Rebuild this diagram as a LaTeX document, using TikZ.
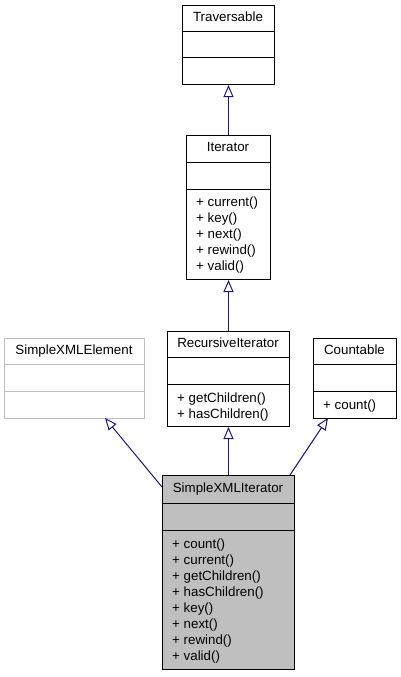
\documentclass[tikz,border=0pt]{standalone}
\usepackage{fontspec}
\setmainfont{Liberation Sans}
\usetikzlibrary{arrows.meta,calc}
\definecolor{edgeblue}{HTML}{191970}
\definecolor{shade}{HTML}{BFBFBF}
\definecolor{lightframe}{HTML}{BFBFBF}
\begin{document}
\begin{tikzpicture}[x=1pt,y=-1pt,
  font=\fontsize{13.33}{16}\selectfont,
  cls/.style={draw=black, line width=1pt, inner sep=0pt, anchor=north west},
  ttl/.style={inner sep=0pt, anchor=center, text height=9.7pt, text depth=2.8pt},
  meth/.style={inner sep=0pt, anchor=west, text height=9.7pt, text depth=2.8pt},
  divider/.style={line width=1pt},
  inh/.style={draw=edgeblue, line width=1pt, -{Triangle[open, length=12pt, width=10pt]}}
]
\useasboundingbox (0,0) rectangle (400,677);

% Traversable
\node[cls, minimum width=92pt, minimum height=79pt] (trav) at (182,5) {};
\draw[divider] (182,32) -- (274,32);
\draw[divider] (182,58) -- (274,58);
\node[ttl] (trav-t) at (228,18.5) {Traversable};

% Iterator
\node[cls, minimum width=84pt, minimum height=144pt] (iter) at (186,135) {};
\draw[divider] (186,162) -- (270,162);
\draw[divider] (186,189) -- (270,189);
\node[ttl] (iter-t) at (228,148.5) {Iterator};
\foreach \t [count=\i from 0] in {current(), key(), next(), rewind(), valid()}
  \node[meth] (iter-m\i) at (196,203.5+16*\i) {+ \t};

% RecursiveIterator
\node[cls, minimum width=122pt, minimum height=95pt] (ri) at (167,331) {};
\draw[divider] (167,357) -- (289,357);
\draw[divider] (167,384) -- (289,384);
\node[ttl] (ri-t) at (228,344) {RecursiveIterator};
\foreach \t [count=\i from 0] in {getChildren(), hasChildren()}
  \node[meth] (ri-m\i) at (177,399.5+16*\i) {+ \t};

% SimpleXMLElement
\node[cls, draw=lightframe, minimum width=140pt, minimum height=80pt] (sxe) at (4,338) {};
\draw[divider, lightframe] (4,364) -- (144,364);
\draw[divider, lightframe] (4,391) -- (144,391);
\node[ttl] (sxe-t) at (74,351) {SimpleXMLElement};

% Countable
\node[cls, minimum width=83pt, minimum height=80pt] (cnt) at (313,338) {};
\draw[divider] (313,364) -- (396,364);
\draw[divider] (313,391) -- (396,391);
\node[ttl] (cnt-t) at (354.5,351) {Countable};
\node[meth] (cnt-m0) at (323,406.5) {+ count()};

% SimpleXMLIterator
\node[cls, fill=shade, minimum width=132pt, minimum height=194pt] (sxi) at (162,475) {};
\draw[divider] (162,503) -- (294,503);
\draw[divider] (162,530) -- (294,530);
\node[ttl] (sxi-t) at (228,489) {SimpleXMLIterator};
\foreach \t [count=\i from 0] in {count(), current(), getChildren(), hasChildren(), key(), next(), rewind(), valid()}
  \node[meth] (sxi-m\i) at (172,545+16*\i) {+ \t};

% connectors
\coordinate (e1s) at (162,487);
\coordinate (e1t) at (105,418);
\coordinate (e3s) at (290,475);
\coordinate (e3t) at (328,418);
\draw[inh] (iter.north) -- (trav.south);
\draw[inh] (ri.north) -- (iter.south);
\draw[inh] (sxi.north) -- (ri.south);
\draw[inh] (e1s) -- (e1t);
\draw[inh] (e3s) -- (e3t);
\end{tikzpicture}
\end{document}
